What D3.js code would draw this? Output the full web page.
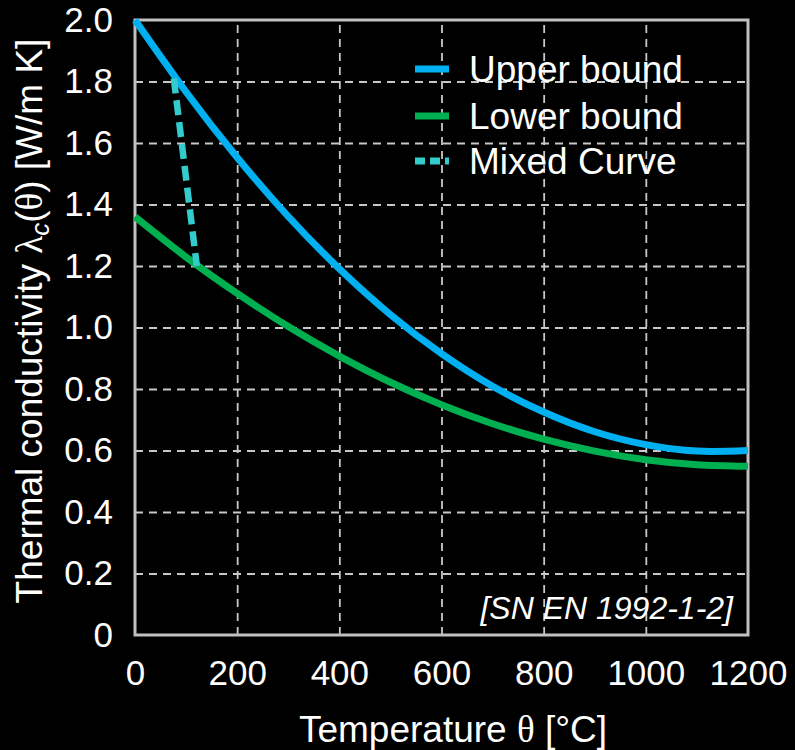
<!DOCTYPE html>
<html>
<head>
<meta charset="utf-8">
<script src="https://cdn.jsdelivr.net/npm/d3@7"></script>
<style>
  html, body { margin: 0; padding: 0; background: #000; }
  text { font-family: "Liberation Sans", Arial, sans-serif; fill: #fff; }
</style>
</head>
<body>
<div id="chart"></div>
<script>
// values (EN 1992-1-2 concrete conductivity)
var temps = [0, 100, 200, 300, 400, 500, 600, 700, 800, 900, 1000, 1100, 1200];
var upperValues = [2.00, 1.766, 1.553, 1.361, 1.191, 1.042, 0.915, 0.809, 0.725, 0.661, 0.619, 0.598, 0.600];
var lowerValues = [1.36, 1.229, 1.111, 1.003, 0.907, 0.822, 0.749, 0.687, 0.637, 0.598, 0.570, 0.554, 0.549];
var mixedTemps = [76, 121];
var mixedValues = [1.81, 1.20];
var xTicks = [0, 200, 400, 600, 800, 1000, 1200];
var yTicks = [0, 0.2, 0.4, 0.6, 0.8, 1.0, 1.2, 1.4, 1.6, 1.8, 2.0];
var legendLabels = ["Upper bound", "Lower bound", "Mixed Curve"];

var W = 795, H = 750;
var plotL = 135, plotR = 748, plotT = 20, plotB = 635;

var svg = d3.select("#chart").append("svg")
  .attr("width", W).attr("height", H)
  .style("background", "#000");

var x = d3.scaleLinear().domain([0, 1200]).range([plotL, plotR]);
var y = d3.scaleLinear().domain([0, 2]).range([plotB, plotT]);

// grid (dashed)
svg.append("g")
  .attr("transform", "translate(0," + plotB + ")")
  .call(d3.axisBottom(x).tickValues(xTicks.slice(1, -1)).tickSize(-(plotB - plotT)).tickFormat(""))
  .call(g => g.select(".domain").remove())
  .selectAll("line")
    .attr("stroke", "#c8c8c8").attr("stroke-width", 1.8).attr("stroke-dasharray", "8,6");

svg.append("g")
  .attr("transform", "translate(" + plotL + ",0)")
  .call(d3.axisLeft(y).tickValues(yTicks.slice(1, -1)).tickSize(-(plotR - plotL)).tickFormat(""))
  .call(g => g.select(".domain").remove())
  .selectAll("line")
    .attr("stroke", "#c8c8c8").attr("stroke-width", 1.8).attr("stroke-dasharray", "8,6");

// frame
svg.append("rect")
  .attr("x", plotL).attr("y", plotT)
  .attr("width", plotR - plotL).attr("height", plotB - plotT)
  .attr("fill", "none").attr("stroke", "#c0c0c0").attr("stroke-width", 3);

// tick labels
var xAxis = svg.append("g")
  .attr("transform", "translate(0," + plotB + ")")
  .call(d3.axisBottom(x).tickValues(xTicks).tickSize(0).tickPadding(25).tickFormat(d3.format("d")));
xAxis.select(".domain").remove();
xAxis.selectAll("text").attr("font-size", 35).attr("fill", "#fff")
  .attr("font-family", "Liberation Sans, Arial, sans-serif");

var yAxis = svg.append("g")
  .attr("transform", "translate(" + plotL + ",0)")
  .call(d3.axisLeft(y).tickValues(yTicks).tickSize(0).tickPadding(22)
    .tickFormat(d => d === 0 ? "0" : d.toFixed(1)));
yAxis.select(".domain").remove();
yAxis.selectAll("text").attr("font-size", 35).attr("fill", "#fff")
  .attr("font-family", "Liberation Sans, Arial, sans-serif");

// curves
var line = d3.line()
  .x(d => x(d[0]))
  .y(d => y(d[1]))
  .curve(d3.curveNatural);

svg.append("path")
  .datum(temps.map((t, i) => [t, lowerValues[i]]))
  .attr("d", line)
  .attr("fill", "none").attr("stroke", "#00b050").attr("stroke-width", 7);

svg.append("path")
  .datum(temps.map((t, i) => [t, upperValues[i]]))
  .attr("d", line)
  .attr("fill", "none").attr("stroke", "#00b0f0").attr("stroke-width", 7);

svg.append("path")
  .datum(mixedTemps.map((t, i) => [t, mixedValues[i]]))
  .attr("d", d3.line().x(d => x(d[0])).y(d => y(d[1])))
  .attr("fill", "none").attr("stroke", "#33cccc").attr("stroke-width", 6.5)
  .attr("stroke-dasharray", "15,7");

// legend
var legColors = ["#00b0f0", "#00b050", "#33cccc"];
var legY = [69, 116, 161];
var leg = svg.append("g");
legendLabels.forEach(function(lbl, i) {
  leg.append("line")
    .attr("x1", 415).attr("x2", 449)
    .attr("y1", legY[i]).attr("y2", legY[i])
    .attr("stroke", legColors[i]).attr("stroke-width", 7)
    .attr("stroke-dasharray", i == 2 ? "10,5" : null);
  leg.append("text")
    .attr("x", 469).attr("y", legY[i])
    .attr("dy", "0.36em")
    .attr("font-size", 37)
    .text(lbl);
});

// source note
svg.append("text")
  .attr("x", 733).attr("y", 619)
  .attr("text-anchor", "end")
  .attr("font-size", 32)
  .attr("font-style", "italic")
  .text("[SN EN 1992-1-2]");

// axis titles
var xt = svg.append("text")
  .attr("x", 453).attr("y", 742)
  .attr("text-anchor", "middle")
  .attr("font-size", 37);
xt.append("tspan").text("Temperature ");
xt.append("tspan").attr("font-family", "Liberation Serif, Times New Roman, serif").text("θ");
xt.append("tspan").text(" [°C]");

var yt = svg.append("text")
  .attr("transform", "translate(42,321) rotate(-90)")
  .attr("text-anchor", "middle")
  .attr("font-size", 37);
yt.append("tspan").text("Thermal conductivity ");
yt.append("tspan").attr("font-family", "Liberation Serif, Times New Roman, serif").text("λ");
yt.append("tspan").attr("font-style", "italic").attr("font-size", 26).attr("dy", 7).text("c");
yt.append("tspan").attr("dy", -7).text("(");
yt.append("tspan").attr("font-family", "Liberation Serif, Times New Roman, serif").text("θ");
yt.append("tspan").text(") [W/m K]");
</script>
</body>
</html>
